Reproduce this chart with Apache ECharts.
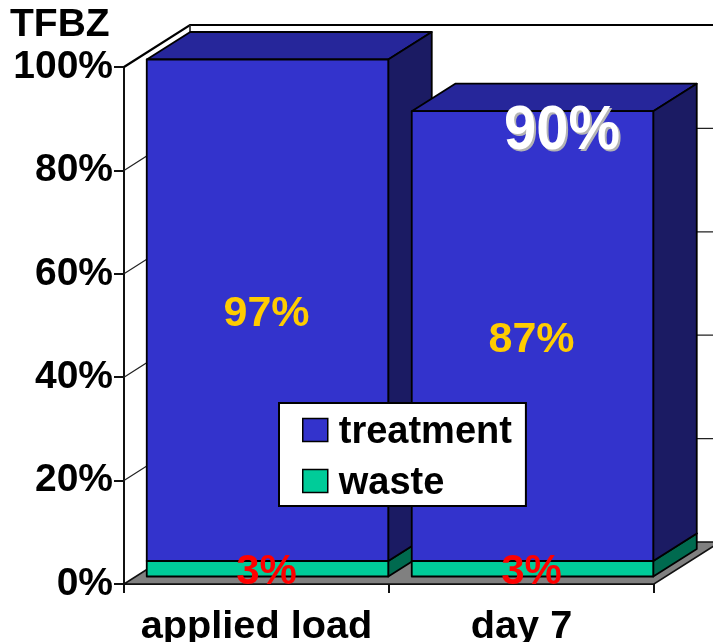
<!DOCTYPE html>
<html><head><meta charset="utf-8">
<style>html,body{margin:0;padding:0;background:#fff}#c{width:713px;height:642px}</style>
<script src="https://cdn.jsdelivr.net/npm/echarts@6/dist/echarts.min.js"></script>
</head><body><div id="c"></div>
<script>
var categories = ['applied load', 'day 7'];
var treatmentValues = [97, 87];
var wasteValues = [3, 3];
var yTicks = [0, 20, 40, 60, 80, 100];
var annotation = '90%';

var FONT = '"Liberation Sans", Arial, sans-serif';
var WALL = {x: 66, y: -42};
var BAR = {shiftX: 11, shiftY: -7.5, depthX: 43.5, depthY: -27.5, width: 241.5};

function barRenderer(front, top, side, labelColor, labelSize, baseOf, valueOf) {
  return function (params, api) {
    var i = api.value(0);
    var base = baseOf(i), val = valueOf(i);
    var c = api.coord([i, base]), t = api.coord([i, base + val]), m = api.coord([i, base + val / 2]);
    var x0 = c[0] + BAR.shiftX - BAR.width / 2, x1 = x0 + BAR.width;
    var y0 = c[1] + BAR.shiftY, y1 = t[1] + BAR.shiftY;
    var dx = BAR.depthX, dy = BAR.depthY;
    var st = function (f) { return {fill: f, stroke: '#000', lineWidth: 1.8, lineJoin: 'round'}; };
    return {type: 'group', silent: true, children: [
      {type: 'polygon', shape: {points: [[x0, y1], [x1, y1], [x1 + dx, y1 + dy], [x0 + dx, y1 + dy]]}, style: st(top)},
      {type: 'polygon', shape: {points: [[x1, y0], [x1 + dx, y0 + dy], [x1 + dx, y1 + dy], [x1, y1]]}, style: st(side)},
      {type: 'rect', shape: {x: x0, y: y1, width: BAR.width, height: y0 - y1}, style: st(front)},
      {type: 'text', z2: 100, x: (x0 + x1) / 2 - 1, y: m[1] + BAR.shiftY + 4, style: {
        text: val + '%', fill: labelColor, font: 'bold ' + labelSize + 'px ' + FONT, align: 'center', verticalAlign: 'middle'}}
    ]};
  };
}

var wallSeries = {
  type: 'custom', name: 'walls', silent: true, z: 1,
  data: yTicks.map(function (v) { return [v]; }),
  encode: {y: 0},
  renderItem: function (params, api) {
    var r = params.coordSys, v = api.value(0);
    var y = api.coord([0, v])[1], L = r.x, R = r.x + r.width, bottom = r.y + r.height;
    var kids = [];
    if (v === 0) {
      kids.push({type: 'polygon', shape: {points: [[L, bottom], [R, bottom], [R + WALL.x, bottom + WALL.y], [L + WALL.x, bottom + WALL.y]]},
        style: {fill: '#808080', stroke: '#111', lineWidth: 1.6}});
    } else {
      var w = v === 100 ? 2.2 : 1.2, col = v === 100 ? '#000' : '#222';
      kids.push({type: 'polyline', shape: {points: [[L, y], [L + WALL.x, y + WALL.y], [R + WALL.x, y + WALL.y]]},
        style: {fill: null, stroke: col, lineWidth: w}});
      if (v === 100) {
        kids.push({type: 'line', shape: {x1: L + WALL.x, y1: y + WALL.y, x2: L + WALL.x, y2: bottom + WALL.y},
          style: {stroke: '#222', lineWidth: 1.6}});
      }
    }
    return {type: 'group', silent: true, children: kids};
  }
};

var annotationStyle = function (fill) {
  return {text: annotation, fill: fill, font: 'bold 58px ' + FONT, align: 'center', verticalAlign: 'middle'};
};

var chart = echarts.init(document.getElementById('c'), null, {renderer: 'canvas'});
chart.setOption({
  animation: false,
  backgroundColor: '#fff',
  title: {text: 'TFBZ', left: 10, top: 6, padding: 0,
    textStyle: {fontFamily: FONT, fontWeight: 'bold', fontSize: 39, color: '#000'}},
  grid: {left: 124, top: 67, width: 530, height: 517, containLabel: false, outerBoundsMode: 'none'},
  xAxis: {type: 'category', data: categories,
    axisLine: {show: true, onZero: true, lineStyle: {color: '#111', width: 2}},
    axisTick: {show: true, length: 9, lineStyle: {color: '#111', width: 2}},
    axisLabel: {interval: 0, margin: 23, color: '#000', fontFamily: FONT, fontWeight: 'bold', fontSize: 39.7},
    splitLine: {show: false}},
  yAxis: {type: 'value', min: 0, max: 100, interval: 20,
    axisLine: {show: true, lineStyle: {color: '#111', width: 2}},
    axisTick: {show: true, length: 10, lineStyle: {color: '#111', width: 2}},
    axisLabel: {formatter: '{value}%', margin: 11, color: '#000', fontFamily: FONT, fontWeight: 'bold', fontSize: 39, padding: [4, 0, 0, 0]},
    splitLine: {show: false}},
  legend: {orient: 'vertical', left: 279, top: 403, data: ['treatment', 'waste'], icon: 'rect',
    itemWidth: 25, itemHeight: 23, itemGap: 13, align: 'left',
    backgroundColor: '#fff', borderColor: '#000', borderWidth: 2, borderRadius: 0,
    padding: [11, 14, 3, 23], selectedMode: false,
    formatter: '{t|{name}}',
    textStyle: {rich: {t: {fontFamily: FONT, fontWeight: 'bold', fontSize: 38, color: '#000', padding: [6, 0, 0, 6]}}},
    itemStyle: {borderColor: '#000', borderWidth: 1.5}},
  graphic: [
    {type: 'text', x: 564, y: 133, scaleY: 1.1, z: 50, silent: true, style: annotationStyle('#b4b4b4')},
    {type: 'text', x: 562, y: 131, scaleY: 1.1, z: 51, silent: true, style: annotationStyle('#fff')}
  ],
  series: [
    wallSeries,
    {type: 'custom', name: 'waste', z: 2, itemStyle: {color: '#00CC99'},
      data: categories.map(function (c, i) { return [i, wasteValues[i]]; }), encode: {x: 0, y: 1},
      renderItem: barRenderer('#00CC99', '#00A67C', '#006A4F', '#FF0000', 42,
        function () { return 0; }, function (i) { return wasteValues[i]; })},
    {type: 'custom', name: 'treatment', z: 2, itemStyle: {color: '#3333CC'},
      data: categories.map(function (c, i) { return [i, wasteValues[i] + treatmentValues[i]]; }), encode: {x: 0, y: 1},
      renderItem: barRenderer('#3333CC', '#26269A', '#1B1B63', '#FFCC00', 43,
        function (i) { return wasteValues[i]; }, function (i) { return treatmentValues[i]; })}
  ]
});
</script></body></html>
